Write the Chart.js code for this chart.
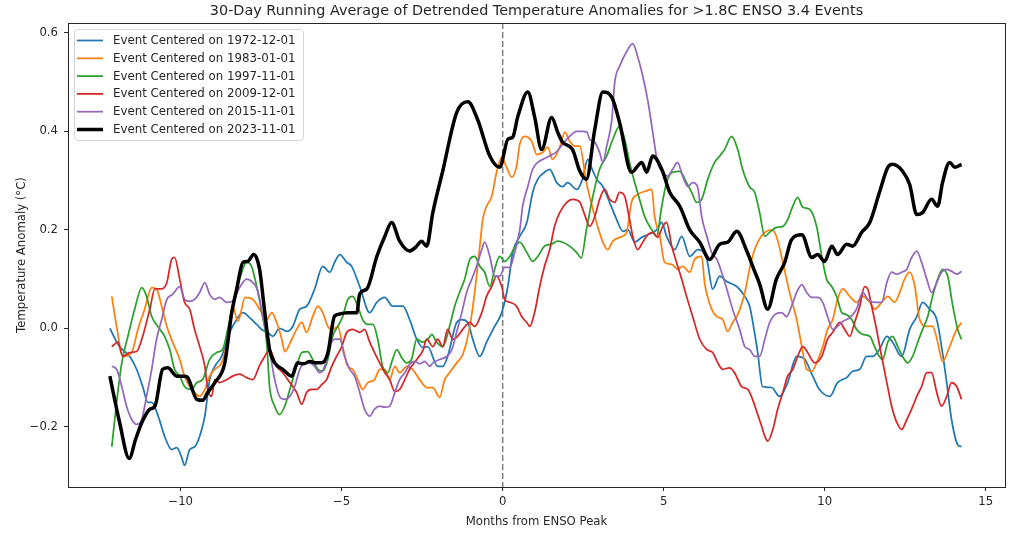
<!DOCTYPE html>
<html>
<head>
<meta charset="utf-8">
<script src="https://cdn.jsdelivr.net/npm/chart.js@4.4.1/dist/chart.umd.min.js"></script>
<style>
html,body{margin:0;padding:0;background:#fff;}
#c{display:block;}
</style>
</head>
<body>
<canvas id="c" width="1024" height="534" style="width:1024px;height:534px"></canvas>
<script>
const chartTitle = '30-Day Running Average of Detrended Temperature Anomalies for >1.8C ENSO 3.4 Events';
const xAxisTitle = 'Months from ENSO Peak';
const yAxisTitle = 'Temperature Anomaly (°C)';
const seriesLabels = ['Event Centered on 1972-12-01','Event Centered on 1983-01-01','Event Centered on 1997-11-01','Event Centered on 2009-12-01','Event Centered on 2015-11-01','Event Centered on 2023-11-01'];
const seriesColors = ['#1f77b4','#ff7f0e','#2ca02c','#d62728','#9467bd','#000000'];
const xTicks = [-10,-5,0,5,10,15];
const yTicks = [-0.2,0.0,0.2,0.4,0.6];

// [months from peak, anomaly °C]
const event1972 = [[-12.2,0.0],[-11.9,-0.037],[-11.58,-0.057],[-11.37,-0.083],[-11.18,-0.118],[-11.02,-0.15],[-10.9,-0.15],[-10.7,-0.178],[-10.5,-0.219],[-10.28,-0.246],[-10.12,-0.242],[-9.97,-0.262],[-9.88,-0.278],[-9.72,-0.246],[-9.56,-0.24],[-9.41,-0.219],[-9.25,-0.178],[-9.1,-0.104],[-8.94,-0.077],[-8.73,-0.057],[-8.48,-0.008],[-8.26,0.018],[-8.07,0.032],[-7.86,0.022],[-7.64,0.008],[-7.45,-0.004],[-7.33,-0.006],[-7.14,-0.016],[-6.93,0.0],[-6.7,-0.006],[-6.52,0.004],[-6.3,0.039],[-6.09,0.045],[-5.84,0.08],[-5.59,0.126],[-5.37,0.114],[-5.22,0.134],[-5.06,0.15],[-4.84,0.134],[-4.69,0.126],[-4.44,0.085],[-4.13,0.032],[-3.91,0.053],[-3.66,0.063],[-3.42,0.045],[-3.1,0.045],[-2.89,0.018],[-2.67,-0.022],[-2.48,-0.039],[-2.33,-0.037],[-2.02,-0.077],[-1.86,-0.077],[-1.71,-0.057],[-1.43,0.012],[-1.27,0.018],[-1.08,0.012],[-0.93,-0.022],[-0.71,-0.057],[-0.5,-0.028],[-0.25,0.004],[-0.03,0.032],[0.16,0.085],[0.31,0.154],[0.53,0.187],[0.75,0.215],[0.93,0.276],[1.09,0.303],[1.3,0.317],[1.46,0.323],[1.68,0.296],[1.86,0.288],[2.02,0.296],[2.3,0.282],[2.48,0.303],[2.64,0.343],[2.78,0.323],[2.92,0.303],[3.11,0.288],[3.32,0.256],[3.54,0.221],[3.73,0.197],[3.89,0.2],[4.1,0.175],[4.32,0.185],[4.5,0.19],[4.78,0.2],[4.94,0.215],[5.09,0.187],[5.34,0.16],[5.56,0.187],[5.81,0.146],[6.06,0.16],[6.34,0.14],[6.52,0.08],[6.74,0.106],[6.96,0.095],[7.27,0.085],[7.52,0.065],[7.67,0.045],[7.8,0.0],[7.92,-0.049],[8.07,-0.118],[8.35,-0.12],[8.6,-0.138],[8.85,-0.11],[9.13,-0.057],[9.38,-0.063],[9.63,-0.097],[9.84,-0.124],[10.16,-0.138],[10.4,-0.11],[10.68,-0.1],[10.87,-0.087],[11.09,-0.083],[11.3,-0.057],[11.49,-0.057],[11.7,-0.043],[11.93,-0.016],[12.11,-0.028],[12.39,-0.057],[12.64,-0.002],[12.86,0.024],[13.04,0.053],[13.26,0.039],[13.48,0.018],[13.63,-0.037],[13.79,-0.11],[13.94,-0.185],[14.13,-0.236],[14.25,-0.24]];

const event1983 = [[-12.14,0.065],[-11.99,0.004],[-11.8,-0.057],[-11.52,-0.049],[-11.33,-0.002],[-11.12,0.039],[-10.9,0.083],[-10.75,0.08],[-10.59,0.045],[-10.43,0.004],[-10.25,-0.028],[-10.03,-0.063],[-9.88,-0.097],[-9.72,-0.118],[-9.57,-0.13],[-9.41,-0.138],[-9.25,-0.124],[-9.1,-0.097],[-8.94,-0.083],[-8.73,-0.07],[-8.54,-0.022],[-8.39,0.045],[-8.22,0.014],[-8.0,0.063],[-7.76,0.059],[-7.55,0.039],[-7.33,0.018],[-7.17,0.032],[-7.02,0.012],[-6.86,-0.022],[-6.77,-0.047],[-6.55,-0.022],[-6.4,-0.002],[-6.24,0.012],[-6.09,-0.008],[-5.9,0.024],[-5.74,0.045],[-5.59,0.032],[-5.43,0.004],[-5.28,-0.002],[-5.12,0.004],[-4.97,-0.037],[-4.81,-0.077],[-4.66,-0.083],[-4.5,-0.104],[-4.35,-0.124],[-4.19,-0.11],[-3.98,-0.104],[-3.82,-0.083],[-3.66,-0.083],[-3.51,-0.104],[-3.35,-0.077],[-3.2,-0.09],[-2.98,-0.077],[-2.8,-0.083],[-2.58,-0.104],[-2.36,-0.12],[-2.17,-0.12],[-1.96,-0.14],[-1.8,-0.104],[-1.65,-0.09],[-1.43,-0.07],[-1.24,-0.053],[-1.02,0.004],[-0.87,0.073],[-0.71,0.167],[-0.62,0.221],[-0.5,0.248],[-0.34,0.268],[-0.19,0.317],[-0.03,0.347],[0.12,0.327],[0.28,0.307],[0.43,0.329],[0.53,0.374],[0.68,0.39],[0.9,0.38],[1.06,0.353],[1.24,0.357],[1.4,0.368],[1.55,0.343],[1.77,0.368],[1.93,0.398],[2.08,0.38],[2.24,0.37],[2.39,0.37],[2.6,0.296],[2.8,0.242],[2.95,0.207],[3.11,0.175],[3.26,0.16],[3.42,0.177],[3.63,0.185],[3.85,0.195],[4.0,0.256],[4.19,0.272],[4.41,0.278],[4.63,0.282],[4.72,0.227],[4.88,0.187],[5.03,0.134],[5.25,0.13],[5.43,0.12],[5.59,0.126],[5.81,0.114],[5.96,0.14],[6.18,0.146],[6.27,0.093],[6.49,0.039],[6.65,0.024],[6.83,0.018],[6.99,-0.006],[7.14,0.012],[7.3,0.028],[7.52,0.073],[7.73,0.14],[7.92,0.175],[8.14,0.195],[8.35,0.2],[8.5,0.187],[8.7,0.134],[8.91,0.073],[9.13,0.018],[9.29,-0.037],[9.44,-0.083],[9.6,-0.087],[9.75,-0.07],[9.94,-0.037],[10.09,-0.002],[10.25,0.018],[10.4,0.059],[10.56,0.08],[10.78,0.065],[10.99,0.053],[11.18,0.065],[11.4,0.053],[11.55,0.039],[11.77,0.053],[11.96,0.065],[12.17,0.053],[12.33,0.073],[12.48,0.1],[12.64,0.114],[12.8,0.085],[12.95,0.018],[13.17,0.004],[13.35,0.004],[13.51,-0.028],[13.66,-0.067],[13.88,-0.037],[14.1,-0.002],[14.25,0.012]];

const event1997 = [[-12.14,-0.24],[-11.99,-0.15],[-11.83,-0.07],[-11.64,-0.016],[-11.43,0.039],[-11.21,0.083],[-11.06,0.065],[-10.9,0.024],[-10.71,0.004],[-10.5,-0.016],[-10.34,-0.043],[-10.19,-0.083],[-10.03,-0.097],[-9.88,-0.118],[-9.66,-0.124],[-9.5,-0.11],[-9.32,-0.104],[-9.1,-0.063],[-8.88,-0.049],[-8.7,-0.043],[-8.54,-0.002],[-8.39,0.045],[-8.17,0.1],[-7.95,0.134],[-7.8,0.126],[-7.64,0.085],[-7.48,0.032],[-7.33,-0.028],[-7.24,-0.118],[-7.08,-0.158],[-6.93,-0.175],[-6.77,-0.158],[-6.61,-0.124],[-6.4,-0.077],[-6.24,-0.049],[-6.06,-0.047],[-5.9,-0.063],[-5.74,-0.083],[-5.59,-0.087],[-5.43,-0.063],[-5.28,-0.016],[-5.12,0.004],[-4.97,0.024],[-4.81,0.059],[-4.66,0.065],[-4.5,0.045],[-4.35,0.018],[-4.19,0.008],[-4.03,0.008],[-3.88,-0.022],[-3.73,-0.077],[-3.57,-0.09],[-3.42,-0.063],[-3.29,-0.043],[-3.14,-0.059],[-2.98,-0.07],[-2.83,-0.063],[-2.67,-0.022],[-2.48,-0.028],[-2.3,-0.02],[-2.2,-0.012],[-2.05,-0.028],[-1.86,-0.037],[-1.65,0.004],[-1.49,0.045],[-1.34,0.073],[-1.18,0.1],[-1.02,0.14],[-0.87,0.146],[-0.71,0.126],[-0.56,0.114],[-0.4,0.085],[-0.25,0.12],[-0.09,0.146],[0.06,0.136],[0.22,0.146],[0.37,0.164],[0.53,0.175],[0.75,0.154],[0.93,0.136],[1.09,0.146],[1.3,0.167],[1.52,0.171],[1.71,0.177],[1.86,0.175],[2.08,0.167],[2.3,0.154],[2.44,0.143],[2.6,0.2],[2.8,0.268],[3.01,0.323],[3.23,0.35],[3.42,0.384],[3.63,0.41],[3.79,0.384],[3.94,0.337],[4.1,0.296],[4.25,0.262],[4.41,0.227],[4.63,0.2],[4.78,0.187],[4.94,0.248],[5.09,0.296],[5.28,0.317],[5.5,0.319],[5.71,0.296],[5.87,0.276],[6.02,0.256],[6.18,0.262],[6.37,0.303],[6.58,0.337],[6.74,0.35],[6.89,0.363],[7.11,0.39],[7.3,0.363],[7.45,0.323],[7.67,0.287],[7.83,0.276],[7.98,0.235],[8.14,0.187],[8.29,0.195],[8.5,0.205],[8.7,0.207],[8.85,0.221],[9.01,0.248],[9.16,0.266],[9.32,0.246],[9.53,0.242],[9.75,0.207],[9.91,0.146],[10.06,0.1],[10.22,0.085],[10.37,0.065],[10.53,0.032],[10.68,0.028],[10.84,0.018],[10.99,-0.002],[11.18,-0.012],[11.4,-0.016],[11.55,-0.037],[11.7,-0.057],[11.8,-0.063],[11.96,-0.028],[12.11,-0.016],[12.27,-0.037],[12.42,-0.057],[12.58,-0.07],[12.73,-0.057],[12.89,-0.028],[13.04,-0.002],[13.2,0.024],[13.35,0.065],[13.51,0.1],[13.66,0.12],[13.82,0.106],[13.98,0.045],[14.13,-0.002],[14.25,-0.022]];

const event2009 = [[-12.14,-0.037],[-11.95,-0.028],[-11.8,-0.057],[-11.58,-0.049],[-11.37,-0.047],[-11.18,-0.016],[-10.96,0.039],[-10.8,0.08],[-10.59,0.08],[-10.43,0.093],[-10.28,0.14],[-10.19,0.144],[-10.03,0.1],[-9.88,0.053],[-9.72,0.039],[-9.57,-0.002],[-9.41,-0.037],[-9.25,-0.077],[-9.16,-0.124],[-9.04,-0.138],[-8.94,-0.104],[-8.79,-0.11],[-8.57,-0.104],[-8.39,-0.097],[-8.17,-0.093],[-7.95,-0.1],[-7.76,-0.104],[-7.55,-0.075],[-7.39,-0.057],[-7.24,-0.043],[-7.02,-0.077],[-6.83,-0.09],[-6.61,-0.11],[-6.4,-0.13],[-6.24,-0.154],[-6.09,-0.13],[-5.93,-0.124],[-5.78,-0.124],[-5.62,-0.114],[-5.47,-0.104],[-5.31,-0.077],[-5.16,-0.057],[-5.0,-0.037],[-4.84,-0.008],[-4.66,-0.002],[-4.44,-0.008],[-4.29,-0.002],[-4.13,-0.028],[-3.98,-0.049],[-3.82,-0.07],[-3.66,-0.09],[-3.51,-0.104],[-3.35,-0.128],[-3.2,-0.124],[-3.04,-0.104],[-2.89,-0.083],[-2.67,-0.063],[-2.48,-0.045],[-2.36,-0.022],[-2.17,-0.037],[-2.02,-0.022],[-1.86,-0.037],[-1.71,-0.002],[-1.55,-0.022],[-1.4,-0.016],[-1.24,-0.002],[-1.02,0.012],[-0.87,0.004],[-0.65,0.032],[-0.5,0.065],[-0.34,0.085],[-0.19,0.106],[-0.03,0.085],[0.06,0.059],[0.22,0.053],[0.43,0.045],[0.59,0.024],[0.75,0.012],[0.84,0.004],[0.99,0.032],[1.15,0.085],[1.3,0.126],[1.46,0.16],[1.61,0.207],[1.77,0.235],[1.99,0.256],[2.17,0.262],[2.39,0.257],[2.55,0.23],[2.7,0.207],[2.86,0.227],[3.01,0.262],[3.17,0.282],[3.32,0.262],[3.48,0.256],[3.63,0.276],[3.79,0.268],[3.94,0.221],[4.04,0.187],[4.19,0.16],[4.35,0.175],[4.5,0.19],[4.66,0.195],[4.81,0.185],[4.97,0.207],[5.09,0.215],[5.25,0.167],[5.4,0.134],[5.56,0.1],[5.71,0.065],[5.9,0.024],[6.12,-0.022],[6.34,-0.043],[6.52,-0.049],[6.68,-0.07],[6.83,-0.083],[7.05,-0.08],[7.2,-0.09],[7.42,-0.118],[7.61,-0.124],[7.76,-0.144],[7.92,-0.175],[8.05,-0.2],[8.14,-0.219],[8.23,-0.229],[8.39,-0.205],[8.54,-0.164],[8.7,-0.13],[8.85,-0.097],[9.01,-0.083],[9.16,-0.057],[9.32,-0.037],[9.47,-0.049],[9.69,-0.07],[9.91,-0.057],[10.09,-0.022],[10.25,-0.008],[10.47,0.012],[10.62,-0.002],[10.78,-0.016],[10.93,0.012],[11.09,0.045],[11.24,0.085],[11.34,0.08],[11.46,0.045],[11.61,-0.002],[11.77,-0.057],[11.93,-0.11],[12.08,-0.158],[12.24,-0.191],[12.39,-0.205],[12.55,-0.185],[12.7,-0.164],[12.86,-0.138],[13.01,-0.118],[13.17,-0.09],[13.32,-0.09],[13.48,-0.13],[13.63,-0.158],[13.79,-0.138],[13.94,-0.11],[14.1,-0.118],[14.25,-0.144]];

const event2015 = [[-12.14,-0.077],[-11.99,-0.083],[-11.83,-0.118],[-11.68,-0.158],[-11.52,-0.185],[-11.37,-0.195],[-11.21,-0.185],[-11.06,-0.138],[-10.9,-0.083],[-10.75,-0.022],[-10.59,0.018],[-10.43,0.059],[-10.25,0.069],[-10.03,0.085],[-9.88,0.059],[-9.72,0.055],[-9.57,0.059],[-9.41,0.073],[-9.25,0.093],[-9.1,0.069],[-8.94,0.059],[-8.79,0.063],[-8.57,0.053],[-8.39,0.055],[-8.17,0.083],[-7.95,0.1],[-7.76,0.093],[-7.6,0.075],[-7.45,0.024],[-7.3,-0.022],[-7.2,-0.06],[-7.08,-0.104],[-6.93,-0.138],[-6.77,-0.144],[-6.61,-0.138],[-6.46,-0.118],[-6.3,-0.083],[-6.15,-0.07],[-5.99,-0.07],[-5.84,-0.077],[-5.68,-0.09],[-5.53,-0.077],[-5.37,-0.037],[-5.22,-0.022],[-5.06,-0.022],[-4.91,-0.057],[-4.75,-0.083],[-4.6,-0.097],[-4.44,-0.13],[-4.29,-0.164],[-4.13,-0.178],[-3.98,-0.164],[-3.82,-0.158],[-3.66,-0.16],[-3.51,-0.158],[-3.35,-0.13],[-3.2,-0.104],[-3.04,-0.09],[-2.89,-0.073],[-2.73,-0.067],[-2.58,-0.072],[-2.42,-0.067],[-2.27,-0.077],[-2.17,-0.07],[-1.96,-0.063],[-1.74,-0.057],[-1.58,-0.043],[-1.43,-0.008],[-1.27,0.032],[-1.12,0.073],[-0.96,0.1],[-0.81,0.126],[-0.65,0.16],[-0.56,0.175],[-0.4,0.146],[-0.25,0.106],[-0.09,0.106],[0.06,0.124],[0.22,0.124],[0.37,0.154],[0.53,0.2],[0.62,0.248],[0.78,0.288],[0.93,0.323],[1.09,0.337],[1.24,0.343],[1.46,0.35],[1.68,0.359],[1.86,0.374],[2.08,0.39],[2.3,0.4],[2.48,0.4],[2.62,0.398],[2.7,0.384],[2.86,0.378],[3.01,0.357],[3.11,0.337],[3.23,0.37],[3.39,0.424],[3.48,0.5],[3.63,0.532],[3.85,0.562],[4.04,0.578],[4.19,0.552],[4.35,0.512],[4.5,0.465],[4.66,0.398],[4.81,0.337],[4.97,0.317],[5.12,0.309],[5.28,0.323],[5.43,0.337],[5.59,0.309],[5.75,0.288],[5.9,0.296],[6.05,0.288],[6.18,0.227],[6.34,0.187],[6.49,0.154],[6.65,0.14],[6.8,0.114],[6.96,0.08],[7.14,0.039],[7.36,-0.002],[7.52,-0.037],[7.67,-0.043],[7.83,-0.057],[7.98,-0.057],[8.14,-0.022],[8.29,0.012],[8.45,0.028],[8.66,0.032],[8.82,0.024],[8.97,0.045],[9.13,0.073],[9.29,0.089],[9.44,0.073],[9.6,0.063],[9.78,0.063],[9.94,0.053],[10.09,0.024],[10.25,-0.002],[10.4,0.004],[10.56,0.014],[10.78,0.022],[10.99,0.039],[11.18,0.073],[11.34,0.059],[11.55,0.053],[11.77,0.053],[11.93,0.093],[12.08,0.114],[12.24,0.11],[12.39,0.114],[12.55,0.12],[12.7,0.144],[12.86,0.157],[13.01,0.134],[13.17,0.1],[13.32,0.073],[13.48,0.093],[13.63,0.114],[13.79,0.12],[13.94,0.116],[14.1,0.11],[14.25,0.116]];

const event2023 = [[-12.2,-0.097],[-11.9,-0.19],[-11.6,-0.264],[-11.4,-0.225],[-11.2,-0.19],[-10.96,-0.164],[-10.8,-0.158],[-10.56,-0.083],[-10.4,-0.08],[-10.12,-0.097],[-9.88,-0.097],[-9.78,-0.1],[-9.5,-0.144],[-9.32,-0.146],[-9.16,-0.13],[-8.94,-0.11],[-8.63,-0.07],[-8.42,0.03],[-8.26,0.08],[-8.07,0.134],[-7.92,0.136],[-7.73,0.15],[-7.55,0.12],[-7.42,0.05],[-7.33,0.0],[-7.24,-0.043],[-7.08,-0.07],[-6.83,-0.083],[-6.55,-0.097],[-6.37,-0.07],[-6.18,-0.072],[-5.99,-0.067],[-5.8,-0.07],[-5.62,-0.07],[-5.43,-0.05],[-5.22,0.025],[-5.0,0.03],[-4.84,0.032],[-4.53,0.032],[-4.44,0.07],[-4.22,0.08],[-3.91,0.146],[-3.66,0.187],[-3.45,0.215],[-3.2,0.177],[-2.89,0.157],[-2.7,0.165],[-2.52,0.177],[-2.36,0.167],[-2.17,0.235],[-1.86,0.32],[-1.43,0.438],[-1.08,0.46],[-0.78,0.424],[-0.4,0.35],[-0.09,0.327],[0.16,0.384],[0.31,0.388],[0.47,0.43],[0.78,0.48],[0.99,0.43],[1.21,0.363],[1.52,0.428],[1.71,0.398],[1.86,0.378],[2.17,0.363],[2.39,0.32],[2.6,0.303],[2.86,0.404],[3.11,0.48],[3.39,0.469],[3.63,0.418],[4.0,0.317],[4.32,0.337],[4.47,0.317],[4.66,0.35],[4.94,0.323],[5.19,0.276],[5.5,0.248],[5.81,0.2],[6.12,0.175],[6.43,0.14],[6.74,0.171],[6.99,0.175],[7.27,0.197],[7.58,0.157],[7.8,0.12],[7.98,0.09],[8.23,0.039],[8.5,0.1],[8.76,0.134],[8.97,0.18],[9.29,0.19],[9.6,0.144],[9.78,0.15],[10.0,0.136],[10.22,0.167],[10.4,0.15],[10.68,0.171],[10.87,0.167],[11.15,0.195],[11.4,0.215],[11.7,0.276],[11.96,0.327],[12.11,0.333],[12.42,0.319],[12.64,0.292],[12.86,0.231],[13.04,0.235],[13.32,0.262],[13.51,0.248],[13.66,0.296],[13.88,0.337],[14.04,0.327],[14.25,0.333]];

const allSeries = [event1972, event1983, event1997, event2009, event2015, event2023];
const lineWidths = [1.75,1.75,1.75,1.75,1.75,3.5];
const FONT = "'DejaVu Sans', sans-serif";
const fmtMinus = (v, d) => { const s = Math.abs(v).toFixed(d); return (v < -1e-9 ? '\u2212' : '') + s; };

const datasets = allSeries.map((pts, i) => ({
  label: seriesLabels[i],
  data: pts.map(p => ({x: p[0], y: p[1]})),
  borderColor: seriesColors[i],
  backgroundColor: seriesColors[i],
  borderWidth: lineWidths[i],
  pointRadius: 0,
  fill: false,
  cubicInterpolationMode: 'monotone',
  order: i === 5 ? 0 : 6 - i
}));

const overlay = {
  id: 'overlay',
  beforeDatasetsDraw(chart) {
    const {ctx, chartArea: a, scales: {x}} = chart;
    const px = x.getPixelForValue(0);
    ctx.save();
    ctx.strokeStyle = '#808080';
    ctx.lineWidth = 1.5;
    ctx.setLineDash([6, 3]);
    ctx.beginPath();
    ctx.moveTo(px, a.top);
    ctx.lineTo(px, a.bottom);
    ctx.stroke();
    ctx.restore();
  },
  afterDraw(chart) {
    const {ctx, chartArea: a} = chart;
    ctx.save();
    ctx.strokeStyle = '#262626';
    ctx.lineWidth = 1;
    ctx.strokeRect(Math.round(a.left) + 0.5, Math.round(a.top) + 0.5, Math.round(a.right - a.left), Math.round(a.bottom - a.top));
    ctx.fillStyle = '#262626';
    ctx.font = "14.4px " + FONT;
    ctx.textAlign = 'center';
    ctx.textBaseline = 'middle';
    ctx.fillText(chartTitle, (a.left + a.right) / 2, 11);
    const bx = a.left + 6, by = a.top + 6, bw = 229, bh = 111;
    ctx.beginPath();
    if (ctx.roundRect) ctx.roundRect(bx + 0.5, by + 0.5, bw, bh, 3); else ctx.rect(bx + 0.5, by + 0.5, bw, bh);
    ctx.fillStyle = 'rgba(255,255,255,0.85)';
    ctx.fill();
    ctx.strokeStyle = '#d5d5d5';
    ctx.lineWidth = 1;
    ctx.stroke();
    ctx.font = "11.8px " + FONT;
    ctx.textAlign = 'left';
    ctx.textBaseline = 'middle';
    chart.data.datasets.forEach((ds, i) => {
      const yy = by + 11.5 + i * 17.8;
      ctx.strokeStyle = ds.borderColor;
      ctx.lineWidth = ds.borderWidth;
      ctx.beginPath();
      ctx.moveTo(bx + 3, yy);
      ctx.lineTo(bx + 29, yy);
      ctx.stroke();
      ctx.fillStyle = '#262626';
      ctx.fillText(ds.label, bx + 39, yy + 0.5);
    });
    ctx.restore();
  }
};

const setTicks = (list) => (scale) => { scale.ticks = list.map(v => ({value: v})); };

new Chart(document.getElementById('c'), {
  type: 'line',
  data: {datasets},
  options: {
    responsive: false,
    animation: false,
    devicePixelRatio: 1,
    layout: {padding: {top: 23, right: 19, left: 0, bottom: 0}},
    plugins: {legend: {display: false}, title: {display: false}, tooltip: {enabled: false}},
    elements: {line: {borderCapStyle: 'butt', borderJoinStyle: 'round'}},
    scales: {
      x: {
        type: 'linear',
        min: -13.5,
        max: 15.6,
        afterFit(s) { s.height = 47; },
        afterBuildTicks: setTicks(xTicks),
        ticks: {stepSize: 5, color: '#262626', font: {family: FONT, size: 11.7}, padding: 4, maxRotation: 0, autoSkip: false,
          callback: v => fmtMinus(v, 0)},
        grid: {display: true, drawOnChartArea: false, drawTicks: true, tickLength: 4, color: '#262626', tickWidth: 1},
        border: {display: true, color: '#262626', width: 1},
        title: {display: true, text: xAxisTitle, color: '#262626', font: {family: FONT, size: 11.7}, padding: {top: 0, bottom: 5}}
      },
      y: {
        type: 'linear',
        min: -0.322,
        max: 0.62,
        afterFit(s) { s.width = 68; },
        afterBuildTicks: setTicks(yTicks),
        ticks: {stepSize: 0.2, color: '#262626', font: {family: FONT, size: 11.7}, padding: 6, autoSkip: false,
          callback: v => fmtMinus(v, 1)},
        grid: {display: true, drawOnChartArea: false, drawTicks: true, tickLength: 4, color: '#262626', tickWidth: 1},
        border: {display: true, color: '#262626', width: 1},
        title: {display: true, text: yAxisTitle, color: '#262626', font: {family: FONT, size: 11.7}, padding: {top: 15, bottom: 0}}
      }
    }
  },
  plugins: [overlay]
});
</script>
</body>
</html>
